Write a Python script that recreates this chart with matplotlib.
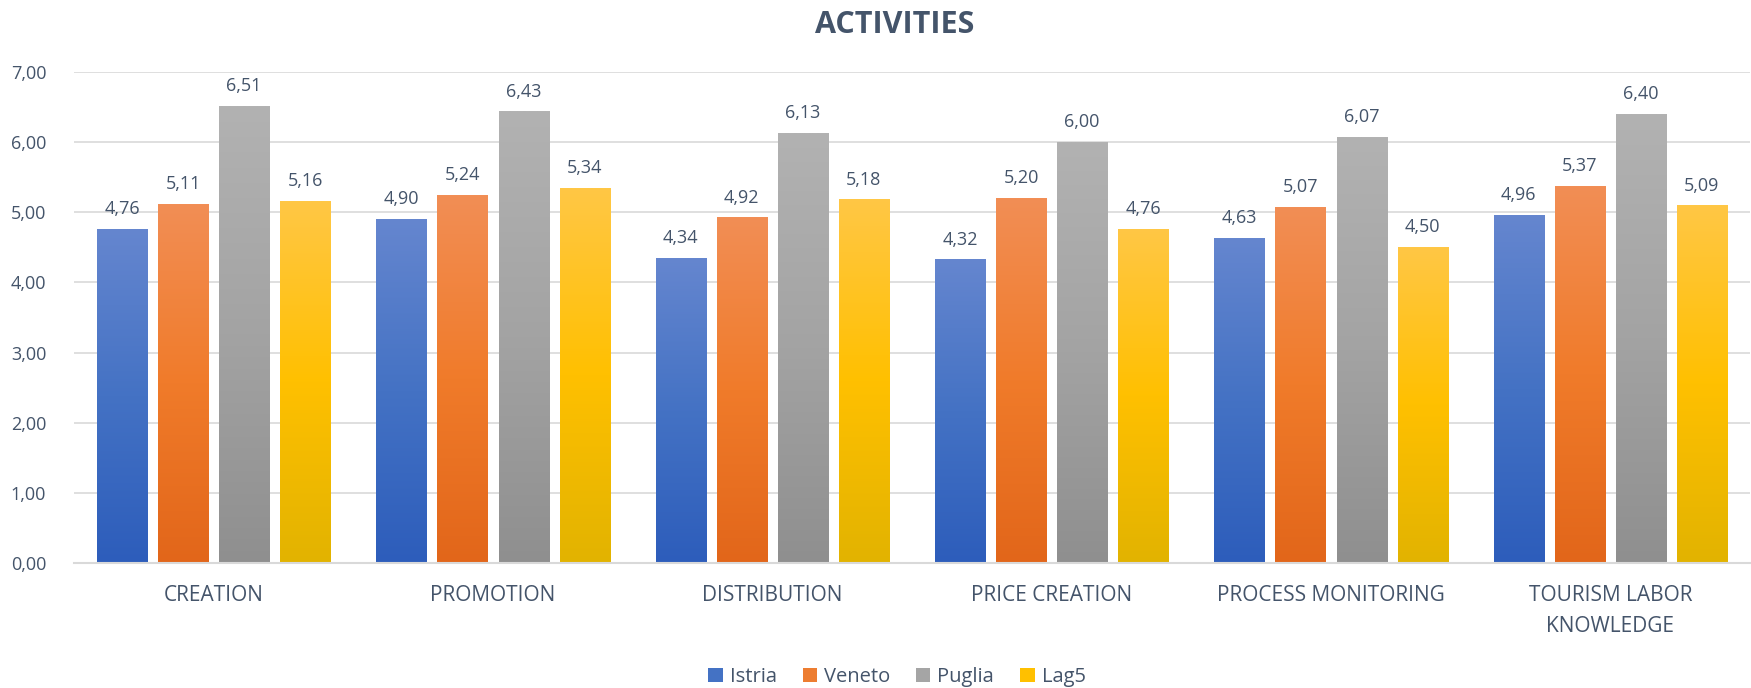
import numpy as np
import matplotlib
matplotlib.use("Agg")
import matplotlib.pyplot as plt
from matplotlib.colors import LinearSegmentedColormap
from matplotlib.patches import Patch

categories = ["CREATION", "PROMOTION", "DISTRIBUTION", "PRICE CREATION",
              "PROCESS MONITORING", "TOURISM LABOR\nKNOWLEDGE"]
series_names = ["Istria", "Veneto", "Puglia", "Lag5"]
istria = [4.76, 4.90, 4.34, 4.32, 4.63, 4.96]
veneto = [5.11, 5.24, 4.92, 5.20, 5.07, 5.37]
puglia = [6.51, 6.43, 6.13, 6.00, 6.07, 6.40]
lag5 = [5.16, 5.34, 5.18, 4.76, 4.50, 5.09]
yticks = [0, 1, 2, 3, 4, 5, 6, 7]

series = [istria, veneto, puglia, lag5]
# (top, middle, bottom) gradient colours
grads = [("#6586cf", "#4472c4", "#2d5dbb"),
         ("#f28e55", "#f07b2a", "#e2661a"),
         ("#b2b2b2", "#a3a3a3", "#8f8f8f"),
         ("#ffc745", "#ffc000", "#e2b300")]
base = ["#4472c4", "#ed7d31", "#a5a5a5", "#ffc000"]

plt.rcParams['font.family'] = ['Open Sans', 'DejaVu Sans']
txt = "#44546a"

fig = plt.figure(figsize=(17.51, 6.88), dpi=100)
ax = fig.add_axes([74/1751, 1 - 563/688, (1750-74)/1751, (563-72)/688])

x = np.arange(len(categories))
bw = 0.179
step = 0.2184
for i, vals in enumerate(series):
    pos = x + (i - 1.5) * step
    bars = ax.bar(pos, vals, width=bw, color="none", edgecolor="none", zorder=2)
    cmap = LinearSegmentedColormap.from_list("g%d" % i, [grads[i][2], grads[i][1], grads[i][0]])
    grad = np.linspace(0, 1, 256).reshape(-1, 1)
    for b, v in zip(bars, vals):
        x0 = b.get_x()
        ax.imshow(grad, extent=[x0, x0 + b.get_width(), 0, b.get_height()],
                  origin="lower", aspect="auto", cmap=cmap, zorder=2,
                  interpolation="bilinear")
        ax.annotate(f"{v:.2f}".replace(".", ","), (x0 + b.get_width()/2, b.get_height()),
                    xytext=(0, 8), textcoords="offset points", ha="center", va="bottom",
                    fontsize=13, color=txt)

ax.set_xlim(-0.5, len(categories) - 0.5)
ax.set_ylim(0, 7)
ax.set_yticks(yticks)
ax.set_yticklabels([f"{t:.2f}".replace(".", ",") for t in yticks], fontsize=13, color=txt)
ax.set_xticks(x)
ax.set_xticklabels(categories, fontsize=15, color=txt, linespacing=1.6)
ax.tick_params(axis="y", length=0, pad=20)
ax.tick_params(axis="x", length=0, pad=16)
ax.grid(axis="y", color="#d9d9d9", linewidth=1.2, zorder=0)
ax.set_axisbelow(True)
for s in ["top", "right", "left"]:
    ax.spines[s].set_visible(False)
ax.spines["bottom"].set_color("#d9d9d9")
ax.spines["bottom"].set_linewidth(1.5)

fig.text(895/1751, 1 - 25/688, "ACTIVITIES", ha="center", va="center",
         fontsize=22, fontweight="bold", color=txt)

handles = [Patch(facecolor=c, edgecolor="none") for c in base]
fig.legend(handles, series_names, loc="center", bbox_to_anchor=(897/1751, 1 - 677/688),
           ncol=4, frameon=False, fontsize=14.5, labelcolor=txt,
           handlelength=0.7, handleheight=0.7, handletextpad=0.35, columnspacing=1.3)

fig.savefig("out.png", dpi=100)
